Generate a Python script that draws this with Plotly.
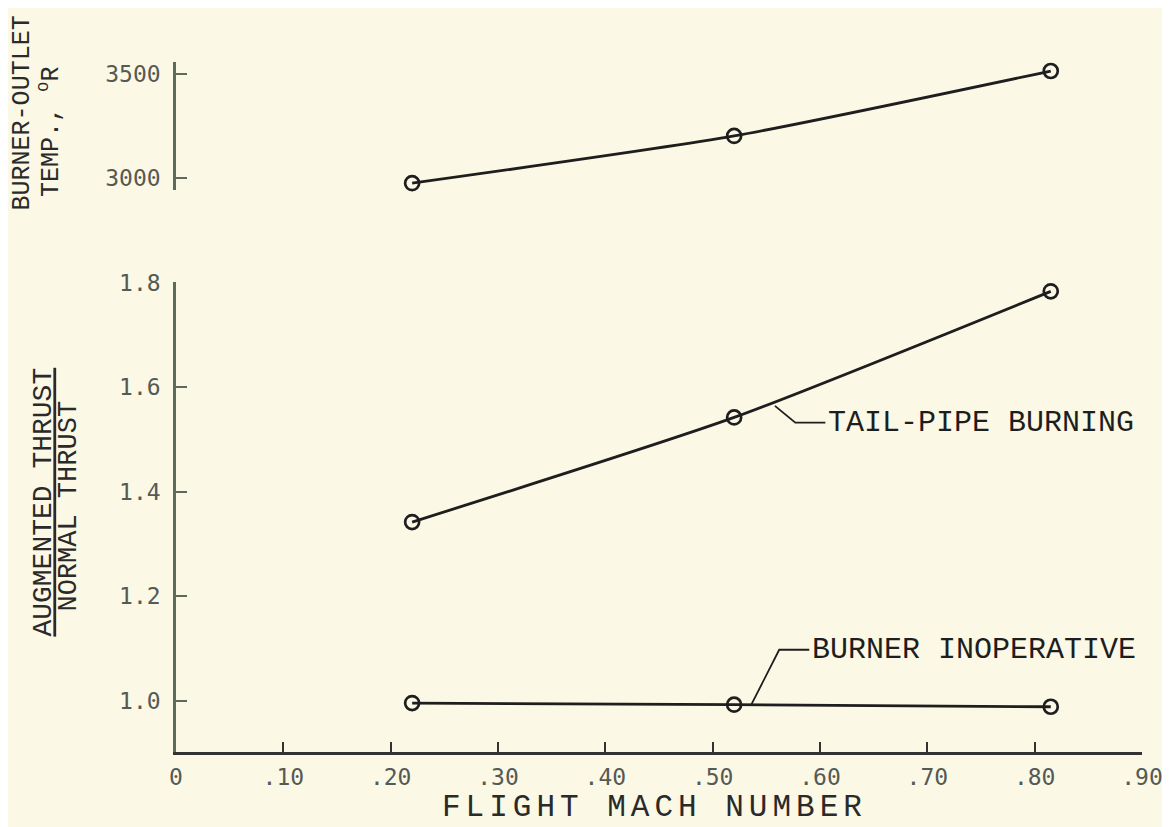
import plotly.graph_objects as go

# ---- data ----
mach = [0.22, 0.52, 0.815]
burner_temp = [2976, 3203, 3515]
tailpipe_ratio = [1.342, 1.542, 1.783]
inoperative_ratio = [0.996, 0.993, 0.989]

x_ticks = [0, 0.1, 0.2, 0.3, 0.4, 0.5, 0.6, 0.7, 0.8, 0.9]
x_ticktext = ["0", ".10", ".20", ".30", ".40", ".50", ".60", ".70", ".80", ".90"]
y_ticks = [1.0, 1.2, 1.4, 1.6, 1.8]
y_ticktext = ["1.0", "1.2", "1.4", "1.6", "1.8"]
t_ticks = [3000, 3500]
t_ticktext = ["3000", "3500"]

# leader lines (data coords)
tail_leader_x = [0.558, 0.577, 0.605]
tail_leader_y = [1.564, 1.532, 1.532]
inop_leader_x = [0.536, 0.562, 0.590]
inop_leader_y = [0.993, 1.098, 1.098]

BG = "#fbf8e5"
INK = "#1e1e1e"
AXC = "#5d6b5d"
TICKF = dict(family="DejaVu Sans Mono", size=23, color="#555a55")
TYPE = "Liberation Mono"

# page body has an 8px margin: figure drawn 8px smaller so it ends at the window edge
OFF = 8
W, H = 1170 - OFF, 827 - OFF

def py(screen_y):
    # screen pixel row -> paper fraction
    return (827 - screen_y) / H

def px(screen_x):
    return (screen_x - 176) / 966

fig = go.Figure()

marker = dict(symbol="circle-open", size=14, color=INK, line=dict(width=2.7, color=INK))
line = dict(color=INK, width=2.8, shape="spline", smoothing=0.6)

fig.add_trace(go.Scatter(x=mach, y=burner_temp, xaxis="x2", yaxis="y2", mode="lines+markers",
                         line=line, marker=marker, cliponaxis=False, showlegend=False))
fig.add_trace(go.Scatter(x=mach, y=tailpipe_ratio, mode="lines+markers",
                         line=line, marker=marker, cliponaxis=False, showlegend=False))
fig.add_trace(go.Scatter(x=mach, y=inoperative_ratio, mode="lines+markers",
                         line=line, marker=marker, cliponaxis=False, showlegend=False))

def path(xs, ys):
    return "M " + " L ".join(f"{a},{b}" for a, b in zip(xs, ys))

shapes = [
    dict(type="path", xref="x", yref="y", path=path(tail_leader_x, tail_leader_y),
         line=dict(color=INK, width=1.8)),
    dict(type="path", xref="x", yref="y", path=path(inop_leader_x, inop_leader_y),
         line=dict(color=INK, width=1.8)),
]

TXT = "#2a2a2a"
annotations = [
    dict(x=tail_leader_x[-1], y=tail_leader_y[-1], xref="x", yref="y", xanchor="left", yanchor="middle",
         text="TAIL-PIPE BURNING", showarrow=False, xshift=1,
         font=dict(family=TYPE, size=30, color=INK)),
    dict(x=inop_leader_x[-1], y=inop_leader_y[-1], xref="x", yref="y", xanchor="left", yanchor="middle",
         text="BURNER INOPERATIVE", showarrow=False, xshift=1,
         font=dict(family=TYPE, size=30, color=INK)),
    dict(x=px(654), y=py(808), xref="paper", yref="paper", xanchor="center", yanchor="middle",
         text='<span style="letter-spacing:5px">FLIGHT MACH NUMBER</span>', showarrow=False,
         font=dict(family=TYPE, size=31, color=TXT)),
    dict(x=px(22), y=py(102), xref="paper", yref="paper", xanchor="center", yanchor="middle",
         text="BURNER-OUTLET", textangle=-90, showarrow=False,
         font=dict(family=TYPE, size=25, color=TXT)),
    dict(x=px(50), y=py(121), xref="paper", yref="paper", xanchor="center", yanchor="middle",
         text="TEMP., <sup>o</sup>R", textangle=-90, showarrow=False,
         font=dict(family=TYPE, size=25, color=TXT)),
    dict(x=px(44), y=py(498), xref="paper", yref="paper", xanchor="center", yanchor="middle",
         text="<u>AUGMENTED THRUST</u>", textangle=-90, showarrow=False,
         font=dict(family=TYPE, size=28, color=TXT)),
    dict(x=px(69), y=py(502), xref="paper", yref="paper", xanchor="center", yanchor="middle",
         text="NORMAL THRUST", textangle=-90, showarrow=False,
         font=dict(family=TYPE, size=27, color=TXT)),
]

fig.update_layout(
    width=W, height=H,
    paper_bgcolor=BG, plot_bgcolor=BG,
    margin=dict(l=176 - OFF, r=28, t=0, b=0),
    shapes=shapes, annotations=annotations,
    xaxis=dict(range=[0, 0.9], tickvals=x_ticks, ticktext=x_ticktext, ticks="inside", ticklen=11,
               tickwidth=2, tickcolor="#333", showline=True, linecolor="#333", linewidth=2.5,
               showgrid=False, zeroline=False, tickfont=TICKF, anchor="y", ticklabelstandoff=2),
    yaxis=dict(range=[0.902, 1.8], domain=[py(752), py(274)], tickvals=y_ticks,
               ticktext=y_ticktext, ticks="inside", ticklen=11, tickwidth=2, tickcolor=AXC,
               showline=True, linecolor=AXC, linewidth=2.5, showgrid=False, zeroline=False,
               tickfont=TICKF, anchor="x", ticklabelstandoff=8),
    xaxis2=dict(range=[0, 0.9], matches="x", anchor="y2", visible=False),
    yaxis2=dict(range=[2943, 3557], domain=[py(180), py(50)], tickvals=t_ticks,
                ticktext=t_ticktext, ticks="inside", ticklen=11, tickwidth=2, tickcolor=AXC,
                showline=True, linecolor=AXC, linewidth=2.5, showgrid=False, zeroline=False,
                tickfont=TICKF, anchor="x2", ticklabelstandoff=8),
)

fig.write_html("out.html")
